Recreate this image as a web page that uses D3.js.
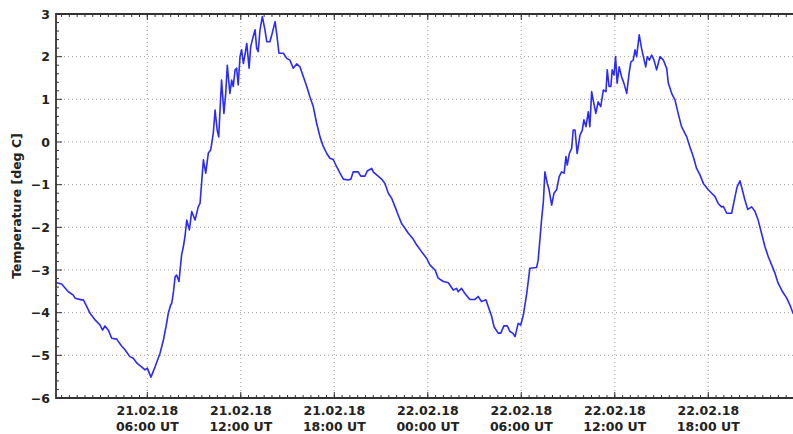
<!DOCTYPE html>
<html><head><meta charset="utf-8">
<script src="https://cdn.jsdelivr.net/npm/d3@7"></script>
<style>body{margin:0;background:#fff}svg{display:block}</style>
</head><body>
<svg id="c" width="793" height="434"></svg>
<script>
// minutes since 21.02.18 00:00 UT
const timeMinutes = [11,30,56,75,82,107,114,127,139,159,178,188,197,210,223,242,261,274,293,306,321,338,351,360,374,390,409,422,432,441,
450,454,460,467,473,482,492,499,505,512,522,531,544,556,563,569,576,585,595,604,614,621,629,635,640,646,655,662,668,678,
685,691,698,704,710,717,723,730,736,743,752,758,766,775,781,787,794,803,813,820,832,841,852,858,867,884,897,909,922,935,
948,961,974,986,999,1012,1025,1038,1051,1063,1076,1089,1102,1115,1134,1144,1153,1172,1182,1198,1207,1224,1230,1243,1262,1275,1288,1301,1314,1326,
1339,1352,1365,1382,1397,1416,1436,1448,1468,1480,1500,1519,1538,1551,1557,1570,1583,1602,1622,1634,1647,1664,1673,1686,1695,1711,1721,1733,1746,1756,
1767,1776,1788,1798,1808,1821,1833,1859,1865,1878,1885,1891,1900,1907,1917,1926,1936,1946,1955,1965,1972,1977,1985,1994,2000,2007,2015,2026,2035,2041,
2049,2058,2064,2071,2077,2087,2096,2106,2116,2126,2131,2138,2145,2150,2157,2163,2169,2177,2186,2195,2206,2215,2222,2231,2238,2244,2254,2263,2270,2279,
2285,2293,2302,2311,2321,2334,2347,2360,2366,2379,2392,2404,2417,2437,2449,2462,2475,2488,2501,2520,2533,2546,2558,2571,2578,2591,2610,2623,2631,2642,
2648,2661,2672,2687,2700,2712,2725,2738,2751,2764,2777,2789,2806,2822,2837,2846,2860];
const tempC = [-3.30,-3.33,-3.51,-3.59,-3.66,-3.70,-3.70,-3.86,-4.01,-4.17,-4.29,-4.41,-4.31,-4.41,-4.60,-4.62,-4.78,-4.87,-5.03,-5.07,-5.19,-5.27,-5.34,-5.30,-5.51,-5.27,-4.95,-4.64,-4.33,-4.01,
-3.82,-3.78,-3.55,-3.16,-3.12,-3.27,-2.65,-2.45,-2.22,-1.83,-2.06,-1.63,-1.83,-1.52,-1.44,-0.97,-0.42,-0.73,-0.26,-0.19,0.20,0.75,0.28,0.12,0.75,1.45,0.67,1.14,1.80,1.14,
1.45,1.30,1.69,1.73,1.34,2.00,2.16,1.84,2.04,2.31,1.73,2.23,2.43,2.63,2.20,2.12,2.63,2.94,2.63,2.35,2.35,2.55,2.82,2.55,2.08,2.08,1.96,1.92,1.73,1.83,
1.76,1.53,1.30,1.06,0.83,0.44,0.12,-0.11,-0.27,-0.38,-0.41,-0.58,-0.73,-0.87,-0.89,-0.87,-0.70,-0.70,-0.80,-0.80,-0.68,-0.62,-0.70,-0.77,-0.87,-0.97,-1.20,-1.32,-1.52,-1.71,
-1.91,-2.02,-2.14,-2.26,-2.41,-2.57,-2.73,-2.88,-3.00,-3.19,-3.27,-3.30,-3.47,-3.43,-3.51,-3.43,-3.55,-3.69,-3.69,-3.62,-3.74,-3.70,-3.86,-4.09,-4.33,-4.48,-4.48,-4.31,-4.31,-4.44,
-4.48,-4.56,-4.25,-4.29,-4.05,-3.55,-2.96,-2.94,-2.77,-1.83,-1.40,-0.70,-0.97,-1.12,-1.48,-1.20,-1.12,-0.81,-0.70,-0.73,-0.34,-0.54,-0.27,-0.15,0.28,0.28,-0.27,0.16,0.28,0.52,
0.36,0.71,0.36,1.18,0.98,0.67,0.94,0.83,1.22,1.18,1.69,1.30,1.30,1.69,1.57,2.00,1.38,1.76,1.53,1.38,1.14,1.61,1.88,1.92,2.16,2.00,2.51,2.20,2.00,1.76,
2.00,1.92,2.04,1.92,1.69,2.00,1.92,1.72,1.38,1.14,0.98,0.67,0.36,0.12,-0.11,-0.34,-0.62,-0.77,-0.97,-1.12,-1.20,-1.28,-1.44,-1.52,-1.51,-1.67,-1.67,-1.28,-1.05,-0.91,
-1.05,-1.36,-1.58,-1.52,-1.63,-1.83,-2.14,-2.45,-2.69,-2.88,-3.08,-3.31,-3.51,-3.66,-3.86,-4.01,-4.10];
const yTicks = [-6,-5,-4,-3,-2,-1,0,1,2,3];
const xTickHours = [6,12,18,24,30,36,42];
const xTickDates = ["21.02.18","21.02.18","21.02.18","22.02.18","22.02.18","22.02.18","22.02.18"];
const xTickTimes = ["06:00 UT","12:00 UT","18:00 UT","00:00 UT","06:00 UT","12:00 UT","18:00 UT"];
const yLabel = "Temperature [deg C]";

const t0 = new Date(Date.UTC(2018,1,21,0,0));
const t1 = new Date(Date.UTC(2018,1,23,0,0));
const L=56, R=793, T=14, B=398;
const svg = d3.select("#c");
const x = d3.scaleUtc().domain([t0,t1]).range([53.8, 53.8+48*15.583]);
const y = d3.scaleLinear().domain([-6,3]).range([B,T]);
const font = "'DejaVu Sans', sans-serif";

svg.append("defs").append("clipPath").attr("id","clip")
  .append("rect").attr("x",L).attr("y",T).attr("width",R-L).attr("height",B-T);

// grid
const g = svg.append("g");
const majorDates = xTickHours.map(h=>d3.utcHour.offset(t0,h));
g.selectAll(".vg").data(majorDates).join("line")
  .attr("x1",d=>x(d)).attr("x2",d=>x(d)).attr("y1",T).attr("y2",B)
  .attr("stroke","#888").attr("stroke-width",0.8).attr("stroke-dasharray","1,3");
g.selectAll(".hg").data(yTicks.filter(v=>v>-6&&v<3)).join("line")
  .attr("x1",L).attr("x2",R).attr("y1",d=>y(d)).attr("y2",d=>y(d))
  .attr("stroke","#888").attr("stroke-width",0.8).attr("stroke-dasharray","1,3");

// line
const data = timeMinutes.map((m,i)=>({t:d3.utcMinute.offset(t0,m), v:tempC[i]}));
svg.append("path").datum(data).attr("clip-path","url(#clip)")
  .attr("fill","none").attr("stroke","#2a2aff").attr("stroke-width",1.6)
  .attr("stroke-linejoin","round")
  .attr("d", d3.line().x(d=>x(d.t)).y(d=>y(d.v)));

// ticks
const tk = svg.append("g").attr("stroke","#333");
const xMin = x.invert(L), xMax = x.invert(R);
const minorX = d3.utcMinute.every(30).range(xMin, xMax);
minorX.forEach(d=>{
  const xx = x(d);
  tk.append("line").attr("x1",xx).attr("x2",xx).attr("y1",B).attr("y2",B-3);
  tk.append("line").attr("x1",xx).attr("x2",xx).attr("y1",T).attr("y2",T+3);
});
majorDates.forEach(d=>{
  const xx = x(d);
  tk.append("line").attr("x1",xx).attr("x2",xx).attr("y1",B).attr("y2",B-6);
  tk.append("line").attr("x1",xx).attr("x2",xx).attr("y1",T).attr("y2",T+6);
});
d3.range(-6,3.001,0.2).forEach(v=>{
  const isMajor = Math.abs(v-Math.round(v))<1e-6;
  tk.append("line").attr("x1",L).attr("x2",L+(isMajor?6:3)).attr("y1",y(v)).attr("y2",y(v));
});

// spines
svg.append("line").attr("x1",L).attr("x2",L).attr("y1",T-1).attr("y2",B+1).attr("stroke","#333").attr("stroke-width",1.8);
svg.append("line").attr("x1",L).attr("x2",R).attr("y1",B).attr("y2",B).attr("stroke","#333").attr("stroke-width",1.8);
svg.append("line").attr("x1",L).attr("x2",R).attr("y1",T).attr("y2",T).attr("stroke","#333").attr("stroke-width",1.8);

// y tick labels
svg.append("g").selectAll("text").data(yTicks).join("text")
  .attr("x",L-6).attr("y",d=>y(d)).attr("dy","0.36em")
  .attr("text-anchor","end").attr("font-family",font).attr("font-weight","bold")
  .attr("font-size","12.5px").attr("fill","#222")
  .text(d=>d<0?"\u2212"+Math.abs(d):String(d));

// x tick labels
const xl = svg.append("g").selectAll("text").data(majorDates).join("text")
  .attr("text-anchor","middle").attr("font-family",font).attr("font-weight","bold")
  .attr("font-size","12.5px").attr("fill","#222");
xl.append("tspan").attr("x",d=>x(d)).attr("y",415).text((d,i)=>xTickDates[i]);
xl.append("tspan").attr("x",d=>x(d)).attr("y",431).text((d,i)=>xTickTimes[i]);

// y label
svg.append("text").attr("transform",`translate(21,${(T+B)/2}) rotate(-90)`)
  .attr("text-anchor","middle").attr("font-family",font).attr("font-weight","bold")
  .attr("font-size","12.5px").attr("fill","#222").text(yLabel);
</script>
</body></html>
